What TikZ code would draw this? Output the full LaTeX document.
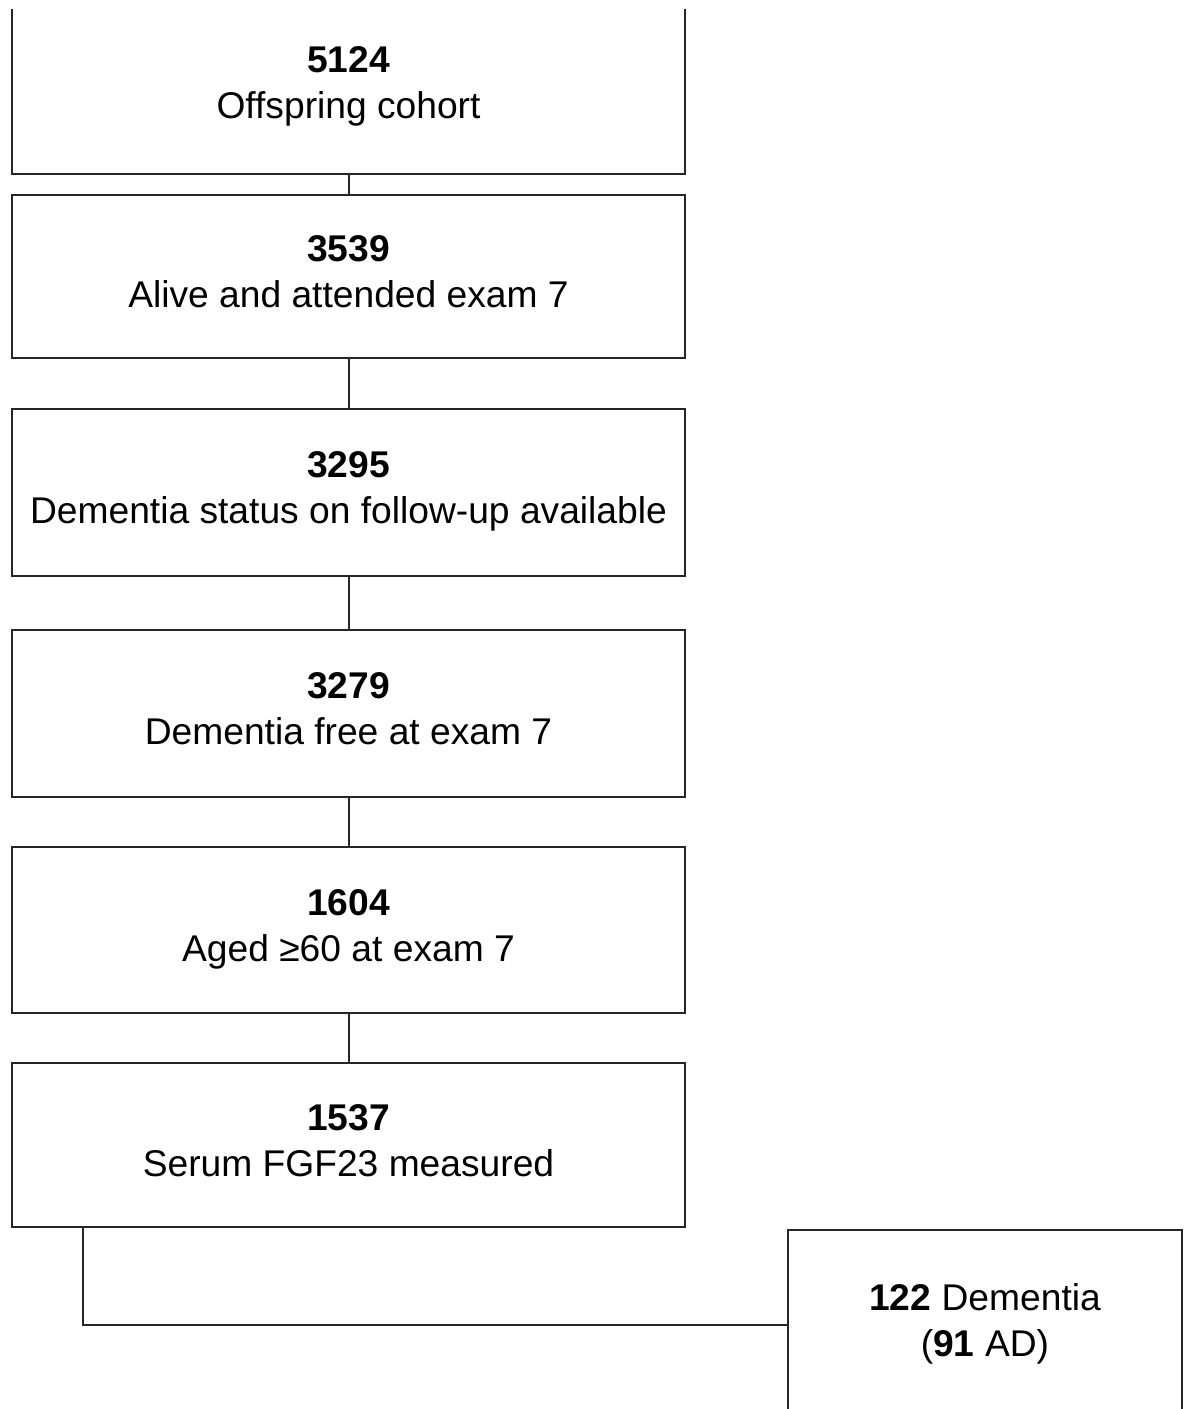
\documentclass[tikz,border=0pt]{standalone}
\usepackage{fontspec}
\setmainfont{Liberation Sans}
\usetikzlibrary{calc}
\begin{document}
\begin{tikzpicture}[x=0.5pt,y=-0.5pt,
  box/.style={draw=black!85, line width=1pt, fill=white, minimum width=336.5pt, align=center,
    inner sep=0pt, text depth=4.5pt, font=\fontsize{18.6}{23}\selectfont},
  link/.style={draw=black!85, line width=1pt}]
\useasboundingbox (0,0) rectangle (1187,1409);
\clip (0,9) rectangle (1187,1409);
\node[box, minimum height=87pt] (b1) at (348.5,87) {\textbf{5124}\\Offspring cohort};
\node[box, minimum height=81.5pt] (b2) at (348.5,276.5) {\textbf{3539}\\Alive and attended exam 7};
\node[box, minimum height=83.5pt] (b3) at (348.5,492.5) {\textbf{3295}\\Dementia status on follow-up available};
\node[box, minimum height=83.5pt] (b4) at (348.5,713.5) {\textbf{3279}\\Dementia free at exam 7};
\node[box, minimum height=83pt] (b5) at (348.5,930) {\textbf{1604}\\Aged ≥60 at exam 7};
\node[box, minimum height=82pt] (b6) at (348.5,1145) {\textbf{1537}\\Serum FGF23 measured};
\node[box, minimum width=197pt, minimum height=95pt] (b7) at (985,1325) {\textbf{122} Dementia\\(\textbf{91} AD)};
\draw[link] (b1.south) -- (b2.north);
\draw[link] (b2.south) -- (b3.north);
\draw[link] (b3.south) -- (b4.north);
\draw[link] (b4.south) -- (b5.north);
\draw[link] (b5.south) -- (b6.north);
\draw[link, line width=1.4pt] ([xshift=36pt]b6.south west) |- (b7.west);
\end{tikzpicture}
\end{document}
